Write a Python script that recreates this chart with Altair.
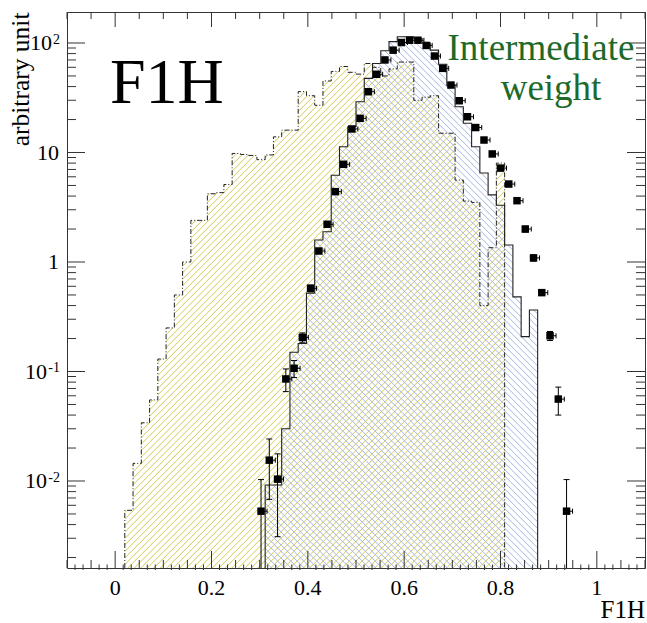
import math
import numpy as np
import pandas as pd
import altair as alt

# ---------------- data ----------------
X_MIN, X_MAX, N_BINS = -0.1, 1.1, 70
BW = (X_MAX - X_MIN) / N_BINS
Y_MIN, Y_MAX = 0.001605, 191.9
W, H = 578, 556

# yellow (dash-dot outline, "///" hatch) histogram, first bin index 7
yellow_start = 7
yellow_vals = [0.0054, 0.0145, 0.034, 0.055, 0.13, 0.25, 0.50, 1.0, 2.4, 2.4,
               4.2, 4.3, 5.1, 9.8, 9.6, 9.4, 8.6, 9.5, 13.9, 16.0,
               16.0, 36.0, 33.0, 27.0, 45.0, 55.0, 61.0, 54.0, 52.0, 65.0,
               60.0, 50.0, 58.0, 67.0, 67.0, 30.0, 32.0, 33.0, 15.0, 15.0,
               5.6, 3.6, 3.5, 0.40, 1.35, 8.0]

# blue (solid outline, "\\\" hatch) histogram, first bin index 24
blue_start = 24
blue_vals = [0.0092, 0.0092, 0.030, 0.15, 0.18, 0.52, 1.59, 1.89, 6.2, 11.3,
             17.2, 29.1, 47.5, 65.0, 85.0, 103.0, 114.0, 114.0, 110.0, 100.0,
             86.0, 64.0, 41.0, 26.2, 18.5, 11.3, 6.5, 4.1, 3.3, 1.43,
             0.48, 0.208, 0.365]

# data points, first bin index 23
pts_start = 23
pts_vals = [0.0053, 0.0155, 0.0104, 0.0855, 0.107, 0.205, 0.575, 1.26, 2.21, 4.39,
            7.8, 16.4, 20.5, 35.9, 51.8, 70.0, 86.0, 101.0, 106.0, 106.0,
            95.0, 76.0, 58.7, 41.3, 29.7, 21.2, 16.9, 13.0, 9.7, 7.2,
            5.15, 3.63, 2.0, 1.09, 0.525, 0.212, 0.056, 0.0053]
pts_errs = [0.005, 0.0087, 0.0073, 0.02, 0.019, 0.02, 0.04, 0.06, 0.09, 0.15,
            0.25, 0.5, 0.6, 0.9, 1.2, 1.5, 1.7, 1.9, 2.0, 2.0,
            1.9, 1.6, 1.4, 1.1, 0.9, 0.7, 0.6, 0.5, 0.4, 0.3,
            0.25, 0.18, 0.12, 0.07, 0.03, 0.02, 0.016, 0.005]

x_major = [0, 0.2, 0.4, 0.6, 0.8, 1.0]
x_major_labels = ["0", "0.2", "0.4", "0.6", "0.8", "1"]
y_decades = [0.01, 0.1, 1, 10, 100]

YELLOW = "#d4ca50"
BLUE = "#a3b6e3"
GREEN = "#1d6a2a"
FRAME = "#333333"
FONT = "Liberation Serif, Times New Roman, Times, serif"

# ---------------- helpers ----------------
LOG_LO, LOG_HI = math.log10(Y_MIN), math.log10(Y_MAX)


def to_px(x):
    return (x - X_MIN) / (X_MAX - X_MIN) * W


def to_py(v):
    return (LOG_HI - math.log10(v)) / (LOG_HI - LOG_LO) * H


def from_px(p):
    return X_MIN + p / W * (X_MAX - X_MIN)


def from_py(p):
    return 10 ** (LOG_HI - p / H * (LOG_HI - LOG_LO))


def hatch(start, vals, slope, spacing):
    edges = [to_px(X_MIN + (start + i) * BW) for i in range(len(vals) + 1)]
    tops = [to_py(v) for v in vals]
    rows = []
    if slope > 0:
        cs = np.arange(edges[0], edges[-1] + H + spacing, spacing)
    else:
        cs = np.arange(edges[0] - H, edges[-1] + spacing, spacing)
    for c in cs:
        segs = []
        cur = None
        for i, t in enumerate(tops):
            x0, x1 = edges[i], edges[i + 1]
            if slope > 0:
                a, b = max(x0, c - H), min(x1, c - t)
            else:
                a, b = max(x0, c + t), min(x1, c + H)
            if b - a <= 1e-9:
                if cur:
                    segs.append(cur)
                    cur = None
                continue
            if cur and abs(cur[1] - a) < 1e-6:
                cur[1] = b
            else:
                if cur:
                    segs.append(cur)
                cur = [a, b]
        if cur:
            segs.append(cur)
        for a, b in segs:
            pa = (c - a) if slope > 0 else (a - c)
            pb = (c - b) if slope > 0 else (b - c)
            rows.append({"x": from_px(a), "y": from_py(pa),
                         "x2": from_px(b), "y2": from_py(pb)})
    return pd.DataFrame(rows)


def outline(start, vals):
    rows = []
    e0 = X_MIN + start * BW
    rows.append({"x": e0, "y": Y_MIN})
    for i, v in enumerate(vals):
        rows.append({"x": X_MIN + (start + i) * BW, "y": v})
    e1 = X_MIN + (start + len(vals)) * BW
    rows.append({"x": e1, "y": vals[-1]})
    rows.append({"x": e1, "y": Y_MIN})
    df = pd.DataFrame(rows)
    df["o"] = range(len(df))
    return df


xs = alt.Scale(domain=[X_MIN, X_MAX], nice=False, zero=False)
ys = alt.Scale(type="log", domain=[Y_MIN, Y_MAX], nice=False)


def X(f):
    return alt.X(f, type="quantitative", scale=xs, axis=None)


def Y(f):
    return alt.Y(f, type="quantitative", scale=ys, axis=None)


# ---------------- hatches & outlines ----------------
yh = hatch(yellow_start, yellow_vals, +1, 6.5)
bh = hatch(blue_start, blue_vals, -1, 6.5)

yellow_hatch = alt.Chart(yh).mark_rule(color=YELLOW, strokeWidth=1, clip=True).encode(
    x=X("x"), y=Y("y"), x2=alt.X2("x2"), y2=alt.Y2("y2"))
blue_hatch = alt.Chart(bh).mark_rule(color=BLUE, strokeWidth=1, clip=True).encode(
    x=X("x"), y=Y("y"), x2=alt.X2("x2"), y2=alt.Y2("y2"))

yellow_line = alt.Chart(outline(yellow_start, yellow_vals)).mark_line(
    interpolate="step-after", color="#222222", strokeWidth=1,
    strokeDash=[5, 2, 1, 2], clip=True).encode(x=X("x"), y=Y("y"), order="o:Q")
blue_line = alt.Chart(outline(blue_start, blue_vals)).mark_line(
    interpolate="step-after", color="#222222", strokeWidth=1.1, clip=True).encode(
    x=X("x"), y=Y("y"), order="o:Q")

# ---------------- data points ----------------
pdf = pd.DataFrame({
    "x": [X_MIN + (pts_start + i + 0.5) * BW for i in range(len(pts_vals))],
    "v": pts_vals,
    "e": pts_errs,
})
pdf["hi"] = pdf["v"] + pdf["e"]
pdf["lo"] = (pdf["v"] - pdf["e"]).clip(lower=Y_MIN)
lo_caps = pdf[pdf["v"] - pdf["e"] > Y_MIN]

err_v = alt.Chart(pdf).mark_rule(color="black", strokeWidth=1, clip=True).encode(
    x=X("x"), y=Y("lo"), y2=alt.Y2("hi"))
cap_hi = alt.Chart(pdf).mark_rule(color="black", strokeWidth=1, xOffset=-3, x2Offset=3).encode(
    x=X("x"), x2=alt.X2("x"), y=Y("hi"))
cap_lo = alt.Chart(lo_caps).mark_rule(color="black", strokeWidth=1, xOffset=-3, x2Offset=3).encode(
    x=X("x"), x2=alt.X2("x"), y=Y("lo"))
err_h = alt.Chart(pdf).mark_rule(color="black", strokeWidth=1, x2Offset=6).encode(
    x=X("x"), x2=alt.X2("x"), y=Y("v"))
err_hc = alt.Chart(pdf).mark_rule(color="black", strokeWidth=1, xOffset=6, x2Offset=6,
                                  yOffset=-2.5, y2Offset=2.5).encode(
    x=X("x"), x2=alt.X2("x"), y=Y("v"), y2=alt.Y2("v"))
markers = alt.Chart(pdf).mark_square(size=56, color="black", opacity=1, filled=True).encode(
    x=X("x"), y=Y("v"))

# ---------------- ticks ----------------
x_sec = [round(v, 4) for v in np.arange(-0.1, 1.1001, 0.05) if abs(v / 0.2 - round(v / 0.2)) > 1e-6]
x_ter = [k / 60 for k in range(-6, 67) if k % 3 != 0]
y_minor = [m * 10 ** d for d in range(-3, 3) for m in range(2, 10) if Y_MIN < m * 10 ** d < Y_MAX]


def xticks(vals, y0, y1):
    return alt.Chart(pd.DataFrame({"x": vals})).mark_rule(color=FRAME, strokeWidth=1).encode(
        x=X("x"), y=alt.value(y0), y2=alt.value(y1))


def yticks(vals, x0, x1):
    return alt.Chart(pd.DataFrame({"y": vals})).mark_rule(color=FRAME, strokeWidth=1).encode(
        y=Y("y"), x=alt.value(x0), x2=alt.value(x1))


ticks = [
    xticks(x_major, H, H - 17), xticks(x_sec, H, H - 8), xticks(x_ter, H + 2, H - 3.5),
    xticks(x_major, 0, 15), xticks(x_sec, 0, 7),
    yticks(y_decades, 0, 18), yticks(y_minor, 0, 9),
    yticks(y_decades, W, W - 18), yticks(y_minor, W, W - 9),
]

# ---------------- labels ----------------
xlab = alt.Chart(pd.DataFrame({"x": x_major, "t": x_major_labels})).mark_text(
    font=FONT, fontSize=22, color="black", align="center", baseline="alphabetic").encode(
    x=X("x"), y=alt.value(H + 26.5), text="t:N")

ylab_plain = alt.Chart(pd.DataFrame({"y": [1, 10], "t": ["1", "10"]})).mark_text(
    font=FONT, fontSize=22, align="right", baseline="alphabetic", dy=7.5).encode(
    y=Y("y"), x=alt.value(-8), text="t:N")
ylab_pos = alt.Chart(pd.DataFrame({"y": [100], "t": ["10"]})).mark_text(
    font=FONT, fontSize=22, align="right", baseline="alphabetic", dy=7.5).encode(
    y=Y("y"), x=alt.value(-15), text="t:N")
ylab_neg = alt.Chart(pd.DataFrame({"y": [0.1, 0.01], "t": ["10", "10"]})).mark_text(
    font=FONT, fontSize=22, align="right", baseline="alphabetic", dy=7.5).encode(
    y=Y("y"), x=alt.value(-20), text="t:N")
ylab_exp = alt.Chart(pd.DataFrame({"y": [100, 0.1, 0.01], "t": ["2", "-1", "-2"]})).mark_text(
    font=FONT, fontSize=14, align="right", baseline="alphabetic", dy=1).encode(
    y=Y("y"), x=alt.value(-7), text="t:N")

one = pd.DataFrame({"a": [0]})


def label(text, x, y, size, color="black", align="left", angle=0):
    kw = dict(font=FONT, fontSize=size, color=color, align=align, baseline="alphabetic", text=text)
    if angle:
        kw["angle"] = angle
    return alt.Chart(one).mark_text(**kw).encode(x=alt.value(x), y=alt.value(y))


texts = [
    label("F1H", 43, 91.3, 64),
    label("Intermediate", 474, 48, 37, GREEN, "center"),
    label("weight", 484, 88, 37, GREEN, "center"),
    label("arbitrary unit", -38, 0.5, 25.5, "black", "right", 270),
    label("F1H", W, H + 50, 25, "black", "right"),
]

chart = alt.layer(
    yellow_hatch, blue_hatch, yellow_line, blue_line,
    err_v, cap_hi, cap_lo, err_h, err_hc, markers,
    *ticks, xlab, ylab_plain, ylab_pos, ylab_neg, ylab_exp, *texts,
).properties(
    width=W, height=H, autosize="none",
    padding={"left": 67, "top": 12, "right": 2, "bottom": 55},
    background="white",
).configure_view(stroke=FRAME, strokeWidth=1)

chart.save("out.html", embed_options={"renderer": "svg", "actions": False})
